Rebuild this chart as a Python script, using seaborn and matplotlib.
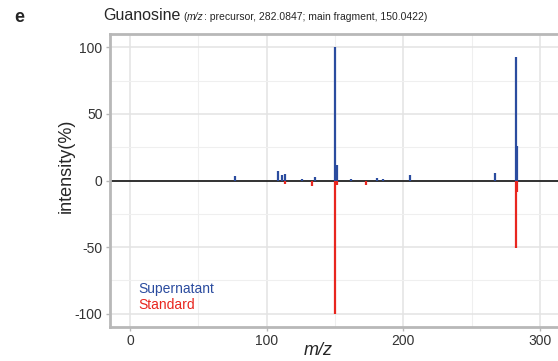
import matplotlib
matplotlib.use("Agg")
import matplotlib.pyplot as plt
import seaborn as sns
from matplotlib.ticker import MultipleLocator

# Data
sup_mz = [76.8, 108.0, 111.0, 113.2, 126.0, 135.1, 150.0, 151.2, 161.5, 181.0, 184.8, 204.8, 266.8, 282.1, 283.1]
sup_int = [3.2, 7.0, 4.2, 5.0, 1.2, 3.0, 100.0, 11.5, 0.8, 2.0, 1.5, 4.5, 6.0, 93.0, 26.0]
std_mz = [67.0, 80.0, 113.2, 133.1, 150.0, 151.2, 173.0, 187.5, 244.6, 282.1, 283.1]
std_int = [0.3, 0.3, 2.5, 4.5, 100.0, 3.5, 3.7, 0.5, 0.5, 51.0, 8.5]

x_ticks = [0, 100, 200, 300]
y_ticks = [-100, -50, 0, 50, 100]
series_names = ["Supernatant", "Standard"]

BLUE = "#2B4C9F"
RED = "#E8261F"

sns.set_theme(style="whitegrid")
plt.rcParams["font.family"] = ["Liberation Sans", "DejaVu Sans"]

fig = plt.figure(figsize=(5.58, 3.61), dpi=100)
W, H = 558, 361
ax = fig.add_axes([109.5 / W, 1 - 327 / H, (560.6 - 109.5) / W, (327 - 34) / H])

ax.set_xlim(-15, 315)
ax.set_ylim(-110, 110)
ax.set_facecolor("white")

ax.xaxis.set_major_locator(MultipleLocator(100))
ax.xaxis.set_minor_locator(MultipleLocator(50))
ax.yaxis.set_major_locator(MultipleLocator(50))
ax.yaxis.set_minor_locator(MultipleLocator(25))
ax.grid(which="major", color="#E3E3E3", linewidth=1.1)
ax.grid(which="minor", color="#EFEFEF", linewidth=0.8)
ax.set_axisbelow(True)

ax.axhline(0, color="black", linewidth=1.1, zorder=2)

ax.vlines(sup_mz, 0, sup_int, colors=BLUE, linewidth=1.6, zorder=3)
ax.vlines(std_mz, 0, [-v for v in std_int], colors=RED, linewidth=1.6, zorder=3)

for s in ax.spines.values():
    s.set_color("#B8B8B8")
    s.set_linewidth(2.0)
ax.spines["right"].set_visible(False)

ax.set_xticks(x_ticks)
ax.set_yticks(y_ticks)
ax.set_xticklabels([str(v) for v in x_ticks])
ax.set_yticklabels([str(v) for v in y_ticks])
ax.tick_params(axis="both", which="major", length=3, width=1, color="#B8B8B8",
               labelsize=10, labelcolor="#333333", pad=2, bottom=True, left=True)
ax.tick_params(axis="both", which="minor", length=0)

ax.set_xlabel("m/z", fontsize=13, style="italic")
ax.xaxis.set_label_coords(0.462, -0.0785)
ax.xaxis.label.set_verticalalignment("center")
ax.set_ylabel("intensity(%)", fontsize=13)
ax.yaxis.set_label_coords(-0.0964, 0.55)
ax.yaxis.label.set_verticalalignment("center")

ax.text(0.065, 0.13, series_names[0], transform=ax.transAxes, color=BLUE, fontsize=10, va="center")
ax.text(0.065, 0.075, series_names[1], transform=ax.transAxes, color=RED, fontsize=10, va="center")

fig.text(14 / W, 1 - 17 / H, "e", fontsize=13, fontweight="bold", va="center")
t = fig.text(103 / W, 1 - 16 / H, "Guanosine", fontsize=11.5, va="center")
fig.canvas.draw()
bb = t.get_window_extent()
x0 = bb.x1 / W + 3 / W
ys = 1 - 17 / H
t2 = fig.text(x0, ys, "(", fontsize=7.5, va="center")
fig.canvas.draw()
xx = t2.get_window_extent().x1 / W
t3 = fig.text(xx, ys, "m/z", fontsize=7.5, style="italic", va="center")
fig.canvas.draw()
xx = t3.get_window_extent().x1 / W
fig.text(xx, ys, ": precursor, 282.0847; main fragment, 150.0422)", fontsize=7.5, va="center")

fig.savefig("out.png", dpi=100)
